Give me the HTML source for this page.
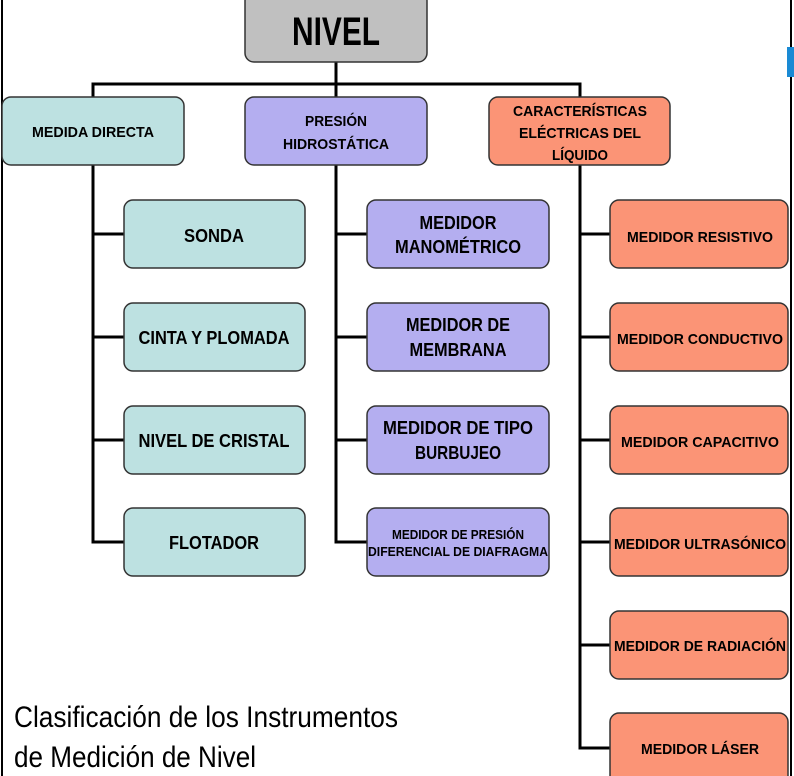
<!DOCTYPE html>
<html><head><meta charset="utf-8"><style>
html,body{margin:0;padding:0;background:#fff;}
svg{display:block;font-family:"Liberation Sans",sans-serif;}
.b{font-weight:bold;fill:#000;}
</style></head><body>
<svg width="794" height="776" viewBox="0 0 794 776" xmlns="http://www.w3.org/2000/svg">
<rect x="0" y="0" width="794" height="776" fill="#fff"/>
<line x1="2" y1="0" x2="2" y2="776" stroke="#000" stroke-width="2"/>
<line x1="791" y1="0" x2="791" y2="776" stroke="#000" stroke-width="2"/>
<rect x="787" y="47" width="7" height="30" fill="#1a8ad4"/>
<g stroke="#000" stroke-width="3" fill="none">
<path d="M336 62 V97"/>
<path d="M93 97 V84 H580 V97"/>
<path d="M93 165 V542 H124 M93 234 H124 M93 337 H124 M93 440 H124"/>
<path d="M336 165 V542 H367 M336 234 H367 M336 337 H367 M336 440 H367"/>
<path d="M580 165 V748 H610 M580 234 H610 M580 337 H610 M580 440 H610 M580 542 H610 M580 645 H610"/>
</g>
<g stroke="#333" stroke-width="1.5">
<rect x="245" y="-8" width="182" height="70" rx="9" fill="#c0c0c0"/>
<rect x="2" y="97" width="182" height="68" rx="9" fill="#bde1e1"/>
<rect x="245" y="97" width="182" height="68" rx="9" fill="#b4aef0"/>
<rect x="489" y="97" width="181" height="68" rx="9" fill="#fb9476"/>
<g fill="#bde1e1">
<rect x="124" y="200" width="181" height="68" rx="9"/>
<rect x="124" y="303" width="181" height="68" rx="9"/>
<rect x="124" y="406" width="181" height="68" rx="9"/>
<rect x="124" y="508" width="181" height="68" rx="9"/>
</g>
<g fill="#b4aef0">
<rect x="367" y="200" width="182" height="68" rx="9"/>
<rect x="367" y="303" width="182" height="68" rx="9"/>
<rect x="367" y="406" width="182" height="68" rx="9"/>
<rect x="367" y="508" width="182" height="68" rx="9"/>
</g>
<g fill="#fb9476">
<rect x="610" y="200" width="178" height="68" rx="9"/>
<rect x="610" y="303" width="178" height="68" rx="9"/>
<rect x="610" y="406" width="178" height="68" rx="9"/>
<rect x="610" y="508" width="178" height="68" rx="9"/>
<rect x="610" y="611" width="178" height="68" rx="9"/>
<rect x="610" y="713" width="178" height="75" rx="9"/>
</g>
</g>
<g class="b" text-anchor="middle">
<text x="336" y="45" font-size="40" textLength="88" lengthAdjust="spacingAndGlyphs">NIVEL</text>
<text x="93" y="137" font-size="15" textLength="122" lengthAdjust="spacingAndGlyphs">MEDIDA DIRECTA</text>
<text x="336" y="126" font-size="15" textLength="62" lengthAdjust="spacingAndGlyphs">PRESIÓN</text>
<text x="336" y="149" font-size="15" textLength="106" lengthAdjust="spacingAndGlyphs">HIDROSTÁTICA</text>
<text x="580" y="116" font-size="15" textLength="134" lengthAdjust="spacingAndGlyphs">CARACTERÍSTICAS</text>
<text x="580" y="138" font-size="15" textLength="122" lengthAdjust="spacingAndGlyphs">ELÉCTRICAS DEL</text>
<text x="580" y="160" font-size="15" textLength="56" lengthAdjust="spacingAndGlyphs">LÍQUIDO</text>

<text x="214" y="242" font-size="18" textLength="60" lengthAdjust="spacingAndGlyphs">SONDA</text>
<text x="214" y="344" font-size="18" textLength="151" lengthAdjust="spacingAndGlyphs">CINTA Y PLOMADA</text>
<text x="214" y="447" font-size="18" textLength="151" lengthAdjust="spacingAndGlyphs">NIVEL DE CRISTAL</text>
<text x="214" y="549" font-size="18" textLength="90" lengthAdjust="spacingAndGlyphs">FLOTADOR</text>

<text x="458" y="229" font-size="18" textLength="77" lengthAdjust="spacingAndGlyphs">MEDIDOR</text>
<text x="458" y="253" font-size="18" textLength="126" lengthAdjust="spacingAndGlyphs">MANOMÉTRICO</text>
<text x="458" y="331" font-size="18" textLength="104" lengthAdjust="spacingAndGlyphs">MEDIDOR DE</text>
<text x="458" y="356" font-size="18" textLength="97" lengthAdjust="spacingAndGlyphs">MEMBRANA</text>
<text x="458" y="434" font-size="18" textLength="150" lengthAdjust="spacingAndGlyphs">MEDIDOR DE TIPO</text>
<text x="458" y="459" font-size="18" textLength="86" lengthAdjust="spacingAndGlyphs">BURBUJEO</text>
<text x="458" y="539" font-size="13" textLength="132" lengthAdjust="spacingAndGlyphs">MEDIDOR DE PRESIÓN</text>
<text x="458" y="556" font-size="13" textLength="180" lengthAdjust="spacingAndGlyphs">DIFERENCIAL DE DIAFRAGMA</text>

<text x="700" y="242" font-size="15" textLength="146" lengthAdjust="spacingAndGlyphs">MEDIDOR RESISTIVO</text>
<text x="700" y="344" font-size="15" textLength="166" lengthAdjust="spacingAndGlyphs">MEDIDOR CONDUCTIVO</text>
<text x="700" y="447" font-size="15" textLength="158" lengthAdjust="spacingAndGlyphs">MEDIDOR CAPACITIVO</text>
<text x="700" y="549" font-size="15" textLength="172" lengthAdjust="spacingAndGlyphs">MEDIDOR ULTRASÓNICO</text>
<text x="700" y="651" font-size="15" textLength="172" lengthAdjust="spacingAndGlyphs">MEDIDOR DE RADIACIÓN</text>
<text x="700" y="754" font-size="15" textLength="118" lengthAdjust="spacingAndGlyphs">MEDIDOR LÁSER</text>
</g>
<text x="14" y="727" font-size="30" textLength="384" lengthAdjust="spacingAndGlyphs" fill="#000">Clasificación de los Instrumentos</text>
<text x="14" y="767" font-size="30" textLength="242" lengthAdjust="spacingAndGlyphs" fill="#000">de Medición de Nivel</text>
</svg>
</body></html>
